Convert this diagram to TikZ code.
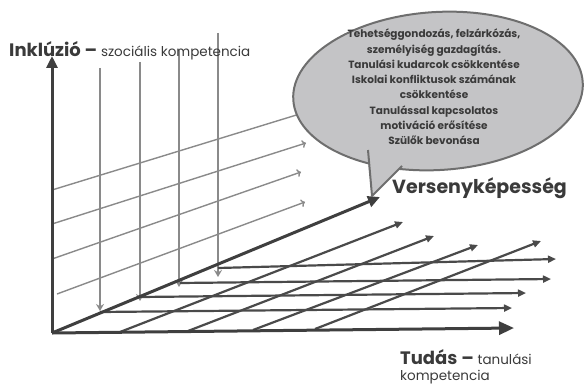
\documentclass[tikz,border=0pt]{standalone}
\usepackage{fontspec}
\setmainfont{Poppins}
\usetikzlibrary{arrows.meta}

\definecolor{axisgray}{HTML}{3F3F3F}
\definecolor{floorgray}{HTML}{4A4A4A}
\definecolor{wallgray}{HTML}{8A8A8A}
\definecolor{bubblefill}{HTML}{C4C4C6}
\definecolor{bubbleedge}{HTML}{6E6E6E}
\definecolor{textgray}{HTML}{3A3A3A}

\tikzset{
  axis/.style={line width=3pt, draw=axisgray, -{Triangle[length=12pt,width=11pt]}},
  floorline/.style={line width=2.2pt, draw=floorgray, -{Triangle[length=8pt,width=7pt]}},
  wall/.style={line width=1.4pt, draw=wallgray, -{To[length=4pt,width=8pt]}},
  drop/.style={line width=1.4pt, draw=wallgray, -{Stealth[length=7pt,width=8pt]}},
  bubble/.style={line width=2pt, draw=bubbleedge, fill=bubblefill},
  bubbletext/.style={align=center, text=textgray, font=\fontsize{10.5}{15.3}\selectfont\bfseries},
  axislabel/.style={anchor=base west, text=textgray, inner sep=0pt}
}

\begin{document}
\begin{tikzpicture}[x=1pt,y=-1pt]
  \useasboundingbox (0,0) rectangle (585,385);

  % axes end points
  \coordinate (O) at (52,333);
  \coordinate (up) at (52,56);
  \coordinate (right) at (514,328);
  \coordinate (deep) at (380,197);

  % back wall lines
  \foreach \i/\a/\b in {1/{52,190}/{303,113}, 2/{52,224}/{306,143},
                        3/{52,259}/{301,172}, 4/{57,294}/{305,202}} {
    \coordinate (w\i s) at (\a);
    \coordinate (w\i e) at (\b);
    \draw[wall] (w\i s) -- (w\i e);
  }

  % drops onto the floor
  \foreach \i/\a/\b in {1/{100,68}/{100,311}, 2/{140,62}/{140,301},
                        3/{179,50}/{179,287}, 4/{218,33}/{218,277}} {
    \coordinate (d\i s) at (\a);
    \coordinate (d\i e) at (\b);
    \draw[drop] (d\i s) -- (d\i e);
  }

  % floor lines, across
  \foreach \i/\a/\b in {1/{100,312}/{512,308}, 2/{140,297}/{526,293},
                        3/{180,283}/{551,279}, 4/{218,268}/{556,259}} {
    \coordinate (f\i s) at (\a);
    \coordinate (f\i e) at (\b);
    \draw[floorline] (f\i s) -- (f\i e);
  }

  % floor lines, into depth
  \foreach \i/\a/\b in {1/{120,332}/{403,222}, 2/{188,331}/{434,236},
                        3/{253,330}/{478,245}, 4/{315,329}/{541,241}} {
    \coordinate (g\i s) at (\a);
    \coordinate (g\i e) at (\b);
    \draw[floorline] (g\i s) -- (g\i e);
  }

  % main axes
  \draw[axis] (O) -- (up);
  \draw[axis, -{Triangle[length=15pt,width=13pt]}] (O) -- (right);
  \draw[axis] (O) -- (deep);

  % speech bubble
  \draw[bubble, rotate around={3.5:(438,91)}] (438,91) ellipse (145 and 79);
  \coordinate (tl) at (368,150);
  \coordinate (tip) at (372,196);
  \coordinate (tr) at (402,166);
  \fill[bubblefill] (366,146) -- (tip) -- (405,163) -- (395,152) -- (380,148) -- cycle;
  \draw[line width=2pt, draw=bubbleedge, line join=round] (tl) -- (tip) -- (tr);

  \node[bubbletext] (goals) at (434,87) {Tehetséggondozás, felzárkózás,\\
    személyiség gazdagítás.\\
    Tanulási kudarcok csökkentése\\
    Iskolai konfliktusok számának\\
    csökkentése\\
    Tanulással kapcsolatos\\
    motiváció erősítése\\
    Szülők bevonása};

  % axis labels
  \node[axislabel] (inkl) at (9,57) {\fontsize{18}{20}\selectfont\bfseries Inklúzió –
    \fontsize{13.5}{15}\selectfont\mdseries szociális kompetencia};
  \node[axislabel] (verseny) at (392,193) {\fontsize{19}{21}\selectfont\bfseries Versenyképesség};
  \node[axislabel] (tudas) at (400,364) {\fontsize{18}{20}\selectfont\bfseries Tudás –
    \fontsize{13.5}{15}\selectfont\mdseries tanulási};
  \node[axislabel] (komp) at (400,380) {\fontsize{13.5}{15}\selectfont kompetencia};
\end{tikzpicture}
\end{document}
